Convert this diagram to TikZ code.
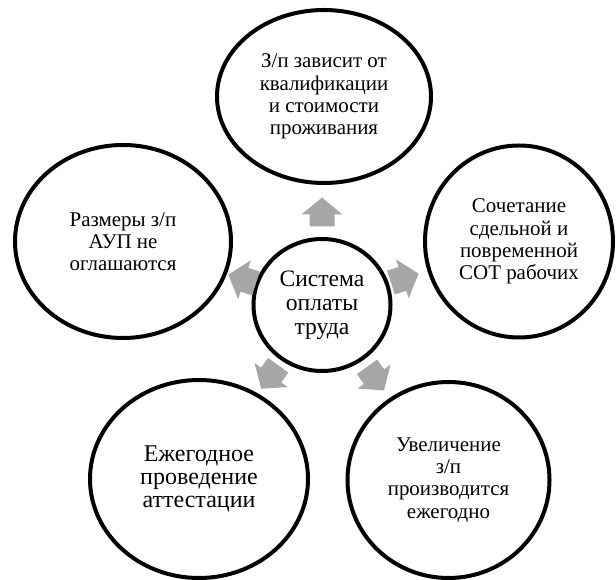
\documentclass[tikz,border=0pt]{standalone}
\usepackage{fontspec}
\setmainfont{Liberation Serif}
\usetikzlibrary{shapes.geometric}

\tikzset{
  bubble/.style={ellipse, draw=black, line width=3pt, fill=white, align=center,
    inner sep=0pt, font=\fontsize{15.7}{16.6}\selectfont},
  bigbubble/.style={bubble, font=\fontsize{18}{17.5}\selectfont},
  hub/.style={bubble, font=\fontsize{17.7}{18}\selectfont},
  pointer/.style={fill=black!35, draw=none}
}

\begin{document}
\begin{tikzpicture}[x=0.75pt,y=0.75pt]
		\useasboundingbox (-322,-275) rectangle (294,305);
		\node[hub, minimum width=102.75pt, minimum height=99pt] (sys) at (0,0) {Система\\оплаты\\труда};
		\node[bubble, minimum width=160.5pt, minimum height=129.75pt] (qual) at (2,208.5) {З/п зависит от\\квалификации\\и стоимости\\проживания};
		\node[bubble, minimum width=141pt, minimum height=144pt] (mix) at (197,63.5) {Сочетание\\сдельной и\\повременной\\СОТ рабочих};
		\node[bubble, minimum width=151.5pt, minimum height=147pt] (rise) at (126.5,-175) {Увеличение\\з/п\\производится\\ежегодно};
		\node[bigbubble, minimum width=163.5pt, minimum height=148.5pt] (cert) at (-123,-174) {Ежегодное\\проведение\\аттестации};
		\node[bubble, minimum width=162pt, minimum height=144.75pt] (secret) at (-199,63.5) {Размеры з/п\\АУП не\\оглашаются};
		\foreach \ang/\dist in {90/93, 18/87, -54/91, -126/89, 162/84}
		  \fill[pointer, shift={(\ang:\dist)}, rotate=\ang]
		    (-14.5,-12.5) -- (-2.5,-12.5) -- (-2.5,-20.5) -- (14.5,0)
		    -- (-2.5,20.5) -- (-2.5,12.5) -- (-14.5,12.5) -- cycle;
\end{tikzpicture}
\end{document}
